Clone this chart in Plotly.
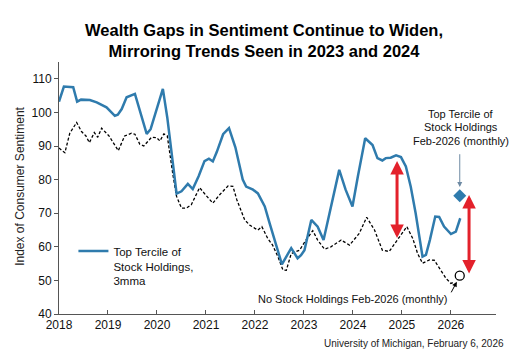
import plotly.graph_objects as go

# Top tercile of stock holdings, 3mma (decimal year, index)
top_x = [2018.00, 2018.10, 2018.29, 2018.37, 2018.45, 2018.63, 2018.77, 2018.90, 2018.97, 2019.14,
         2019.20, 2019.28, 2019.38, 2019.55, 2019.79, 2019.87, 2020.12, 2020.21, 2020.40, 2020.50,
         2020.63, 2020.73, 2020.85, 2020.97, 2021.06, 2021.14, 2021.22, 2021.35, 2021.47, 2021.60,
         2021.67, 2021.75, 2021.82, 2021.96, 2022.06, 2022.20, 2022.30, 2022.40, 2022.55, 2022.74,
         2022.87, 2022.94, 2023.01, 2023.15, 2023.28, 2023.40, 2023.55, 2023.72, 2023.85, 2023.99,
         2024.10, 2024.25, 2024.40, 2024.50, 2024.60, 2024.67, 2024.77, 2024.88, 2024.98, 2025.08,
         2025.18, 2025.28, 2025.42, 2025.49, 2025.57, 2025.68, 2025.76, 2025.86, 2026.00, 2026.10,
         2026.19]
top_vals = [103.2, 107.7, 107.5, 103.2, 103.8, 103.7, 103.0, 102.0, 101.5, 99.0,
            99.3, 101.0, 104.5, 105.5, 93.6, 95.0, 107.0, 98.5, 75.8, 76.5,
            78.7, 77.2, 81.0, 85.5, 86.2, 85.4, 88.2, 93.5, 95.3, 89.6,
            85.0, 80.0, 77.9, 77.0, 75.9, 72.0, 67.0, 62.0, 54.8, 59.6,
            56.6, 57.5, 59.0, 68.0, 66.0, 62.0, 72.0, 82.9, 77.0, 72.0,
            80.9, 92.3, 90.3, 86.4, 85.7, 86.4, 86.5, 87.2, 86.7, 83.9,
            77.9, 70.0, 57.1, 57.6, 62.0, 69.0, 68.9, 66.0, 63.8, 64.5,
            68.5]

# No stock holdings, 3mma
none_x = [2018.00, 2018.12, 2018.22, 2018.36, 2018.46, 2018.55, 2018.62, 2018.72, 2018.79, 2018.87,
          2019.02, 2019.21, 2019.34, 2019.48, 2019.55, 2019.65, 2019.73, 2019.89, 2019.99, 2020.06,
          2020.14, 2020.21, 2020.33, 2020.40, 2020.50, 2020.60, 2020.70, 2020.87, 2020.99, 2021.14,
          2021.28, 2021.45, 2021.55, 2021.63, 2021.79, 2021.89, 2022.00, 2022.06, 2022.14, 2022.26,
          2022.36, 2022.47, 2022.57, 2022.64, 2022.74, 2022.91, 2023.04, 2023.18, 2023.28, 2023.42,
          2023.55, 2023.76, 2023.93, 2024.13, 2024.28, 2024.44, 2024.60, 2024.74, 2024.88, 2025.10,
          2025.22, 2025.32, 2025.42, 2025.56, 2025.66, 2025.76, 2025.90, 2026.00, 2026.06]
none_vals = [89.4, 88.0, 93.8, 97.0, 94.3, 93.0, 91.0, 94.0, 92.6, 95.3,
             93.0, 88.6, 93.0, 93.8, 93.5, 90.5, 90.0, 92.6, 92.5, 91.5,
             93.6, 93.0, 81.0, 75.0, 71.5, 71.5, 72.5, 77.6, 75.5, 73.0,
             75.5, 78.1, 78.0, 74.0, 68.0, 66.5, 65.5, 65.0, 66.0, 62.5,
             60.5, 57.0, 53.1, 53.0, 58.0, 59.0, 62.0, 64.8, 62.0, 59.3,
             60.0, 62.0, 60.5, 64.0, 68.8, 65.0, 59.0, 58.6, 61.5, 66.0,
             62.5, 58.0, 55.1, 56.1, 56.0, 53.6, 50.6, 49.1, 49.5]

# Feb-2026 monthly readings
monthly_x = [2026.18]
monthly_top = [75.2]
monthly_none = [51.4]

# Gap arrows (x, top, bottom)
gap_x = [2024.90, 2026.37]
gap_top = [85.5, 75.4]
gap_bottom = [62.2, 51.6]

year_ticks = [2018, 2019, 2020, 2021, 2022, 2023, 2024, 2025, 2026]
y_ticks = [40, 50, 60, 70, 80, 90, 100, 110]

BLUE = "#2F7BAD"
RED = "#E3212B"
FONT = "Liberation Sans, Arial, sans-serif"

fig = go.Figure()
fig.add_trace(go.Scatter(x=none_x, y=none_vals, mode="lines", showlegend=False,
                         line=dict(color="black", width=1.3, dash="3px,2px")))
fig.add_trace(go.Scatter(x=top_x, y=top_vals, mode="lines",
                         name="Top Tercile of<br>Stock Holdings,<br>3mma",
                         line=dict(color=BLUE, width=2.5)))
fig.add_trace(go.Scatter(x=monthly_x, y=monthly_top, mode="markers", showlegend=False,
                         marker=dict(symbol="diamond", size=10, color=BLUE)))
fig.add_trace(go.Scatter(x=monthly_x, y=monthly_none, mode="markers", showlegend=False,
                         marker=dict(symbol="circle", size=9, color="white",
                                     line=dict(color="black", width=1.3))))

anns = []
for gx, gt, gb in zip(gap_x, gap_top, gap_bottom):
    anns.append(dict(x=gx, y=gt, ax=gx, ay=gb, xref="x", yref="y", axref="x", ayref="y",
                     text="", showarrow=True, arrowhead=2, arrowsize=0.9, arrowwidth=3,
                     arrowcolor=RED, arrowside="end+start", standoff=0, startstandoff=0))

# pointer arrows
anns.append(dict(x=monthly_x[0], y=77.8, ax=monthly_x[0], ay=88.0, xref="x", yref="y",
                 axref="x", ayref="y", text="", showarrow=True, arrowhead=2, arrowsize=1,
                 arrowwidth=1, arrowcolor="#6E8AA3"))
anns.append(dict(x=2026.12, y=49.6, ax=2025.99, ay=46.0, xref="x", yref="y",
                 axref="x", ayref="y", text="", showarrow=True, arrowhead=2, arrowsize=1,
                 arrowwidth=1, arrowcolor="black"))

lab_font = dict(family=FONT, size=11, color="#111111")
for txt, yy in zip(["Top Tercile of", "Stock Holdings", "Feb-2026 (monthly)"], [99.6, 95.6, 91.6]):
    anns.append(dict(x=2026.2, y=yy, xref="x", yref="y", text=txt, showarrow=False,
                     xanchor="center", yanchor="middle", font=lab_font))
anns.append(dict(x=2025.98, y=44.4, xref="x", yref="y", text="No Stock Holdings Feb-2026 (monthly)",
                 showarrow=False, xanchor="right", yanchor="middle", font=lab_font))

# title
anns.append(dict(x=0.468, y=1.087, xref="paper", yref="paper",
                 text="<b>Wealth Gaps in Sentiment Continue to Widen,</b><br>"
                      "<b>Mirroring Trends Seen in 2023 and 2024</b>",
                 showarrow=False, xanchor="center", yanchor="middle", align="center",
                 font=dict(family=FONT, size=16.5, color="black")))

anns.append(dict(x=-0.089, y=0.505, xref="paper", yref="paper", text="Index of Consumer Sentiment",
                 textangle=-90, showarrow=False, xanchor="center", yanchor="middle",
                 font=dict(family=FONT, size=12, color="#222222")))
anns.append(dict(x=1.023, y=-0.116, xref="paper", yref="paper",
                 text="University of Michigan, February 6, 2026", showarrow=False,
                 xanchor="right", yanchor="middle", font=dict(family=FONT, size=10, color="#222222")))

# the page body adds an 8px offset, so the figure is drawn 8px smaller
fig.update_layout(
    width=518, height=354,
    margin=dict(l=51, r=30, t=54, b=48),
    paper_bgcolor="white", plot_bgcolor="white",
    font=dict(family=FONT, size=12, color="#111111"),
    annotations=anns,
    legend=dict(x=0.033, y=0.305, xanchor="left", yanchor="top", valign="top",
                bgcolor="rgba(0,0,0,0)", font=dict(family=FONT, size=11.5, color="#111111"),
                itemwidth=30, tracegroupgap=0),
    xaxis=dict(range=[2018, 2026.92], tickvals=year_ticks, ticktext=[str(t) for t in year_ticks],
               showgrid=False, zeroline=False, showline=True, linecolor="#555555", linewidth=1,
               ticks="inside", ticklen=4, tickcolor="#555555",
               tickfont=dict(family=FONT, size=12, color="#111111")),
    yaxis=dict(range=[40, 115], tickvals=y_ticks, showgrid=False, zeroline=False,
               showline=True, linecolor="#555555", linewidth=1,
               ticks="outside", ticklen=4, tickcolor="#555555",
               tickfont=dict(family=FONT, size=12, color="#111111")),
)

fig.write_html("out.html")
